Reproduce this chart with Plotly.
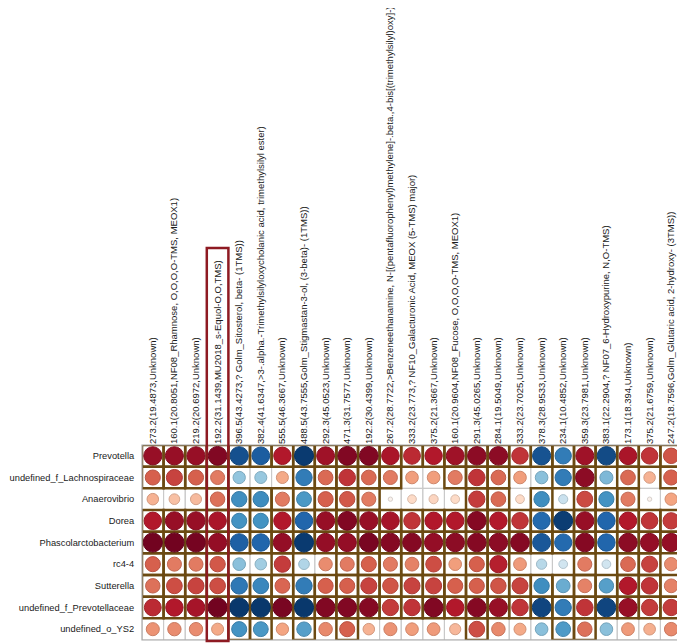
import numpy as np
import plotly.graph_objects as go

rows = ["Prevotella", "undefined_f_Lachnospiraceae", "Anaerovibrio", "Dorea",
        "Phascolarctobacterium", "rc4-4", "Sutterella", "undefined_f_Prevotellaceae",
        "undefined_o_YS2"]

cols = [
    "273.2(19.4873,Unknown)",
    "160.1(20.8051,NF08_Rhamnose, O,O,O,O-TMS, MEOX1)",
    "219.2(20.6972,Unknown)",
    "192.2(31.1439,MU2018_s-Equol-O,O,TMS)",
    "396.5(43.4273,? Golm_Sitosterol, beta- (1TMS))",
    "382.4(41.6347,>3-.alpha.-Trimethylsilyloxycholanic acid, trimethylsilyl ester)",
    "555.5(46.3667,Unknown)",
    "488.5(43.7555,Golm_Stigmastan-3-ol, (3-beta)- (1TMS))",
    "292.3(45.0523,Unknown)",
    "471.3(31.7577,Unknown)",
    "192.2(30.4399,Unknown)",
    "267.2(28.7722,>Benzeneethanamine, N-[(pentafluorophenyl)methylene]-.beta.,4-bis[(trimethylsilyl)oxy]-)",
    "333.2(23.773,? NF10_Galacturonic Acid, MEOX (5-TMS) major)",
    "375.2(21.3667,Unknown)",
    "160.1(20.9604,NF08_Fucose, O,O,O,O-TMS, MEOX1)",
    "291.3(45.0265,Unknown)",
    "284.1(19.5049,Unknown)",
    "333.2(23.7025,Unknown)",
    "378.3(28.9533,Unknown)",
    "234.1(10.4852,Unknown)",
    "359.3(23.7981,Unknown)",
    "383.1(22.2904,? NF07_6-Hydroxypurine, N,O-TMS)",
    "173.1(18.394,Unknown)",
    "375.2(21.6759,Unknown)",
    "247.2(18.7596,Golm_Glutaric acid, 2-hydroxy- (3TMS))",
]

r_prevotella = [0.87, 0.87, 0.87, 0.93, -0.88, -0.83, 0.80, -0.96, 0.85, 0.93, 0.93, 0.82, 0.75,
                0.80, 0.85, 0.90, 0.90, 0.72, -0.87, -0.70, 0.85, -0.90, 0.82, 0.72, 0.63]
r_lachno = [0.60, 0.68, 0.60, 0.52, -0.40, -0.38, 0.38, -0.70, 0.57, 0.72, 0.57, 0.52, 0.42,
            0.42, 0.52, 0.72, 0.57, 0.42, -0.42, -0.70, 0.90, -0.45, 0.57, 0.35, 0.60]
r_anaerovibrio = [0.35, 0.30, 0.32, 0.55, -0.62, -0.63, 0.52, -0.58, 0.60, 0.62, 0.52, 0.05, 0.20,
                  0.22, 0.20, 0.70, 0.57, 0.20, -0.62, -0.22, 0.66, -0.60, 0.52, 0.05, 0.40]
r_dorea = [0.80, 0.87, 0.87, 0.82, -0.60, -0.60, 0.80, -0.80, 0.87, 0.93, 0.87, 0.83, 0.72,
           0.80, 0.80, 0.92, 0.80, 0.72, -0.78, -0.95, 0.87, -0.80, 0.80, 0.72, 0.70]
r_phasco = [0.97, 0.97, 0.96, 0.88, -0.82, -0.80, 0.88, -0.96, 0.88, 0.88, 0.95, 0.92, 0.92,
            0.88, 0.90, 0.92, 0.90, 0.92, -0.85, -0.78, 0.92, -0.80, 0.90, 0.88, 0.88]
r_rc44 = [0.60, 0.52, 0.52, 0.62, -0.42, -0.35, 0.70, -0.30, 0.47, 0.52, 0.60, 0.52, 0.50,
          0.65, 0.42, 0.60, 0.78, 0.43, -0.28, -0.20, 0.52, -0.20, 0.57, 0.68, 0.47]
r_sutterella = [0.55, 0.65, 0.68, 0.65, -0.72, -0.65, 0.58, -0.70, 0.60, 0.60, 0.68, 0.63, 0.68,
                0.68, 0.60, 0.60, 0.63, 0.68, -0.62, -0.50, 0.50, -0.55, 0.80, 0.72, 0.50]
r_prevotellaceae = [0.75, 0.80, 0.83, 0.97, -0.97, -0.97, 0.95, -0.97, 0.93, 0.93, 0.92, 0.70, 0.72,
                    0.93, 0.80, 0.92, 0.87, 0.72, -0.92, -0.70, 0.72, -0.92, 0.87, 0.70, 0.70]
r_ys2 = [0.45, 0.47, 0.47, 0.38, -0.60, -0.58, 0.40, -0.55, 0.48, 0.60, 0.35, 0.45, 0.42,
         0.43, 0.33, 0.65, 0.48, 0.38, -0.42, -0.57, 0.55, -0.42, 0.43, 0.36, 0.48]

values = [r_prevotella, r_lachno, r_anaerovibrio, r_dorea, r_phasco, r_rc44,
          r_sutterella, r_prevotellaceae, r_ys2]
sig_threshold = 0.5
highlight_col = 3

# ColorBrewer RdBu (blue negative -> red positive)
stops = [(-1.0, (5, 48, 97)), (-0.8, (33, 102, 172)), (-0.6, (67, 147, 195)),
         (-0.4, (146, 197, 222)), (-0.2, (209, 229, 240)), (0.0, (250, 250, 250)),
         (0.2, (253, 219, 199)), (0.4, (244, 165, 130)), (0.6, (214, 96, 77)),
         (0.8, (178, 24, 43)), (1.0, (103, 0, 31))]


def rgb_for(v):
    for (a, ca), (b, cb) in zip(stops[:-1], stops[1:]):
        if a <= v <= b:
            t = (v - a) / (b - a)
            return tuple(ca[k] + (cb[k] - ca[k]) * t for k in range(3))
    return stops[-1][1]


xs, ys, sizes, fills, lines, texts = [], [], [], [], [], []
for i, rv in enumerate(values):
    for j, v in enumerate(rv):
        xs.append(j)
        ys.append(i)
        sizes.append(19.5 * np.sqrt(abs(v)))
        c = rgb_for(v)
        fills.append("rgb(%d,%d,%d)" % c)
        lines.append("rgb(%d,%d,%d)" % tuple(int(x * 0.86) for x in c))
        texts.append("%s<br>%s<br>r=%.2f" % (rows[i], cols[j], v))

fig = go.Figure()
fig.add_trace(go.Scatter(
    x=xs, y=ys, mode="markers",
    marker=dict(size=sizes, color=fills, opacity=1, line=dict(color=lines, width=1)),
    text=texts, hoverinfo="text", showlegend=False,
))

shapes = []
grey = "#c9c9c9"
brown = "#6b4a12"
for i, rv in enumerate(values):
    for j, v in enumerate(rv):
        shapes.append(dict(type="rect", xref="x", yref="y", x0=j - 0.5, x1=j + 0.5,
                           y0=i - 0.5, y1=i + 0.5, line=dict(color=grey, width=1),
                           layer="below"))
for i, rv in enumerate(values):
    for j, v in enumerate(rv):
        if abs(v) >= sig_threshold:
            shapes.append(dict(type="rect", xref="x", yref="y", x0=j - 0.5, x1=j + 0.5,
                               y0=i - 0.5, y1=i + 0.5, line=dict(color=brown, width=2.5),
                               layer="below"))
shapes.append(dict(type="rect", xref="paper", yref="paper", x0=0, x1=1, y0=0, y1=1,
                   line=dict(color="#a8a8a8", width=1.2)))
shapes.append(dict(type="rect", xref="x", yref="paper", x0=highlight_col - 0.5,
                   x1=highlight_col + 0.5, y0=-0.005, y1=2.01,
                   line=dict(color="#8e1a22", width=2.5)))

font = "Liberation Sans, Arial, sans-serif"
fsize = 9.5
fig.update_layout(
    width=677, height=636,
    margin=dict(l=134, r=3, t=437, b=4),
    paper_bgcolor="white", plot_bgcolor="white",
    shapes=shapes,
    font=dict(family=font, size=fsize, color="#1a1a1a"),
    xaxis=dict(range=[-0.5, len(cols) - 0.5], side="top", tickmode="array",
               tickvals=list(range(len(cols))), ticktext=cols, tickangle=-90,
               showgrid=False, zeroline=False, showline=False, ticks="",
               automargin=False,
               tickfont=dict(family=font, size=fsize, color="#1a1a1a")),
    yaxis=dict(range=[len(rows) - 0.5, -0.5], tickmode="array",
               tickvals=list(range(len(rows))), ticktext=rows,
               showgrid=False, zeroline=False, showline=False,
               ticks="outside", ticklen=5, tickcolor="rgba(0,0,0,0)",
               automargin=False,
               tickfont=dict(family=font, size=9.3, color="#1a1a1a")),
)

fig.write_html("out.html")
